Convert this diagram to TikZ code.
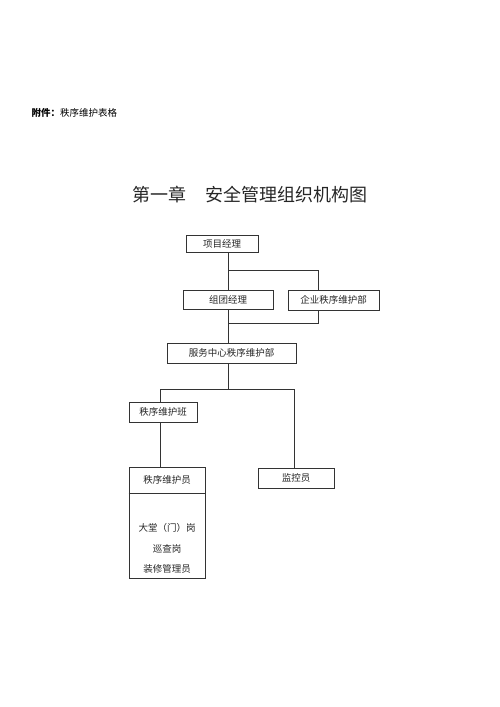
\documentclass[tikz,border=0pt]{standalone}
\usepackage{fontspec}
\newfontfamily\cjk{Noto Sans CJK SC}
\setmainfont{Noto Sans CJK SC}
\begin{document}
\begin{tikzpicture}[x=1pt,y=-1pt,
  box/.style={draw=black!80,line width=0.8pt,rectangle,inner sep=0pt,font=\cjk\fontsize{9.5}{11}\selectfont,text=black!85},
  conn/.style={draw=black!80,line width=0.8pt}]
\useasboundingbox (0,0) rectangle (500,707);
\node[anchor=west,font=\cjk\fontsize{9.5}{11}\selectfont] (att) at (28,113) {\textbf{附件：}秩序维护表格};
\node[font=\cjk\fontsize{18}{20}\selectfont,text=black!85] (title) at (250,195) {第一章\hspace{1.1em}安全管理组织机构图};
\node[box,minimum width=72,minimum height=17] (pm) at (222,243.5) {项目经理};
\node[box,minimum width=90,minimum height=19] (zt) at (228,300) {组团经理};
\node[box,minimum width=91,minimum height=20] (qy) at (333.5,300) {企业秩序维护部};
\node[box,minimum width=129,minimum height=20] (fw) at (231.5,353) {服务中心秩序维护部};
\node[box,minimum width=68,minimum height=20] (bz) at (163,412) {秩序维护班};
\node[box,minimum width=76,minimum height=111] (yuan) at (167,522.5) {};
\node[font=\cjk\fontsize{9.5}{11}\selectfont,text=black!85] (yt) at (167,480) {秩序维护员};
\node[font=\cjk\fontsize{9.5}{11}\selectfont,text=black!85] (y1) at (167,528) {大堂（门）岗};
\node[font=\cjk\fontsize{9.5}{11}\selectfont,text=black!85] (y2) at (167,549) {巡查岗};
\node[font=\cjk\fontsize{9.5}{11}\selectfont,text=black!85] (y3) at (167,569) {装修管理员};
\draw[conn] (yuan.west |- 0,493) -- (yuan.east |- 0,493);
\node[box,minimum width=76,minimum height=20] (jk) at (296,478) {监控员};
\coordinate (j1) at (228,270);
\coordinate (j1r) at (318,270);
\coordinate (j2) at (228,323);
\coordinate (j2r) at (318,323);
\coordinate (j3) at (228,389);
\coordinate (j3l) at (160,389);
\coordinate (j3r) at (294,389);
\draw[conn] (pm.south -| j1) -- (j1) -- (j1r) -- (j1r |- qy.north);
\draw[conn] (j1) -- (j1 |- zt.north);
\draw[conn] (zt.south -| j2) -- (j2 |- fw.north);
\draw[conn] (qy.south -| j2r) -- (j2r) -- (j2);
\draw[conn] (fw.south -| j3) -- (j3);
\draw[conn] (j3l |- bz.north) -- (j3l) -- (j3r) -- (j3r |- jk.north);
\draw[conn] (bz.south -| j3l) -- (j3l |- yuan.north);
\end{tikzpicture}
\end{document}
